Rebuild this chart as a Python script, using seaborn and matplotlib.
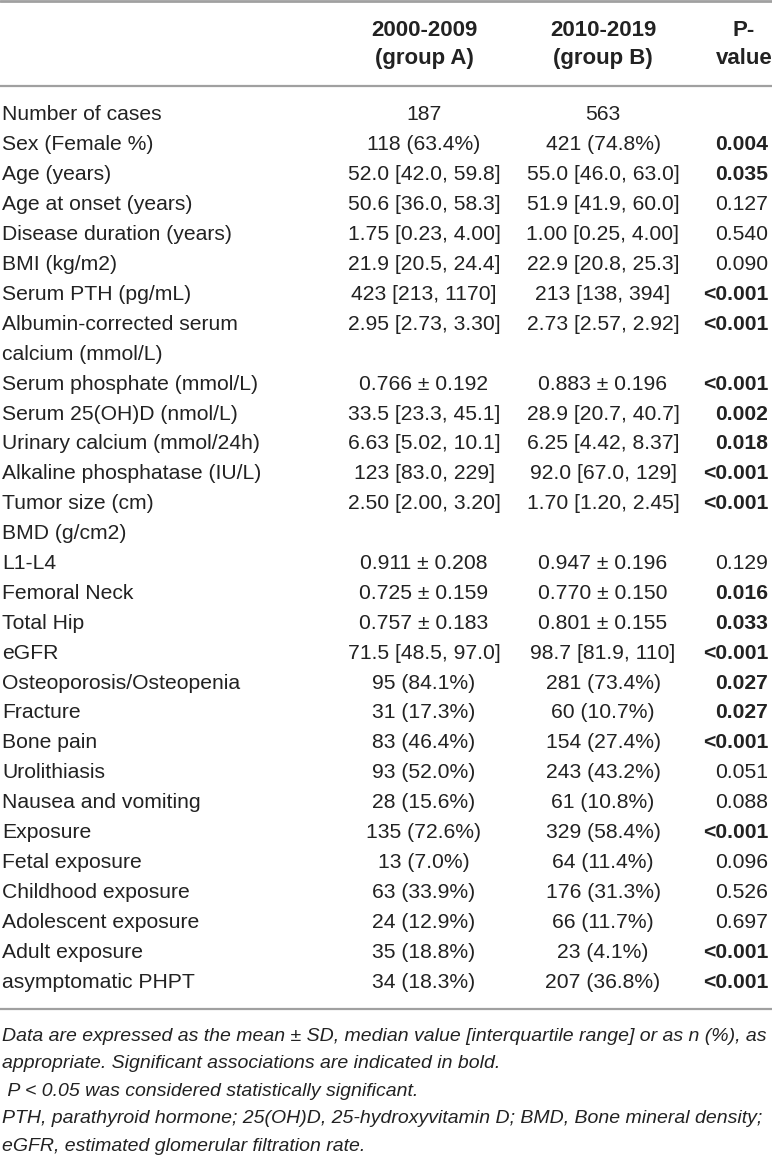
import matplotlib
matplotlib.use("Agg")
import matplotlib.pyplot as plt
import seaborn as sns
import pandas as pd

# table contents
labels = [
    "Number of cases", "Sex (Female %)", "Age (years)", "Age at onset (years)",
    "Disease duration (years)", "BMI (kg/m2)", "Serum PTH (pg/mL)",
    "Albumin-corrected serum\ncalcium (mmol/L)", "Serum phosphate (mmol/L)",
    "Serum 25(OH)D (nmol/L)", "Urinary calcium (mmol/24h)",
    "Alkaline phosphatase (IU/L)", "Tumor size (cm)", "BMD (g/cm2)", "L1-L4",
    "Femoral Neck", "Total Hip", "eGFR", "Osteoporosis/Osteopenia", "Fracture",
    "Bone pain", "Urolithiasis", "Nausea and vomiting", "Exposure",
    "Fetal exposure", "Childhood exposure", "Adolescent exposure",
    "Adult exposure", "asymptomatic PHPT",
]
group_a = [
    "187", "118 (63.4%)", "52.0 [42.0, 59.8]", "50.6 [36.0, 58.3]",
    "1.75 [0.23, 4.00]", "21.9 [20.5, 24.4]", "423 [213, 1170]",
    "2.95 [2.73, 3.30]", "0.766 ± 0.192", "33.5 [23.3, 45.1]",
    "6.63 [5.02, 10.1]", "123 [83.0, 229]", "2.50 [2.00, 3.20]", "",
    "0.911 ± 0.208", "0.725 ± 0.159", "0.757 ± 0.183", "71.5 [48.5, 97.0]",
    "95 (84.1%)", "31 (17.3%)", "83 (46.4%)", "93 (52.0%)", "28 (15.6%)",
    "135 (72.6%)", "13 (7.0%)", "63 (33.9%)", "24 (12.9%)", "35 (18.8%)",
    "34 (18.3%)",
]
group_b = [
    "563", "421 (74.8%)", "55.0 [46.0, 63.0]", "51.9 [41.9, 60.0]",
    "1.00 [0.25, 4.00]", "22.9 [20.8, 25.3]", "213 [138, 394]",
    "2.73 [2.57, 2.92]", "0.883 ± 0.196", "28.9 [20.7, 40.7]",
    "6.25 [4.42, 8.37]", "92.0 [67.0, 129]", "1.70 [1.20, 2.45]", "",
    "0.947 ± 0.196", "0.770 ± 0.150", "0.801 ± 0.155", "98.7 [81.9, 110]",
    "281 (73.4%)", "60 (10.7%)", "154 (27.4%)", "243 (43.2%)", "61 (10.8%)",
    "329 (58.4%)", "64 (11.4%)", "176 (31.3%)", "66 (11.7%)", "23 (4.1%)",
    "207 (36.8%)",
]
p_values = [
    "", "0.004", "0.035", "0.127", "0.540", "0.090", "<0.001", "<0.001",
    "<0.001", "0.002", "0.018", "<0.001", "<0.001", "", "0.129", "0.016",
    "0.033", "<0.001", "0.027", "0.027", "<0.001", "0.051", "0.088",
    "<0.001", "0.096", "0.526", "0.697", "<0.001", "<0.001",
]
col_headers = ["2000-2009\n(group A)", "2010-2019\n(group B)", "P-\nvalue"]
footnotes = [
    "Data are expressed as the mean ± SD, median value [interquartile range] or as n (%), as",
    "appropriate. Significant associations are indicated in bold.",
    " P < 0.05 was considered statistically significant.",
    "PTH, parathyroid hormone; 25(OH)D, 25-hydroxyvitamin D; BMD, Bone mineral density;",
    "eGFR, estimated glomerular filtration rate.",
]

df = pd.DataFrame({"label": labels, "a": group_a, "b": group_b, "p": p_values})


def is_sig(p):
    if not p:
        return False
    if p.startswith("<"):
        return True
    return float(p) < 0.05


df["bold"] = df["p"].apply(is_sig)

sns.set_theme(style="white")
plt.rcParams["font.family"] = ["Liberation Sans", "DejaVu Sans"]

W, H = 772, 1157
fig = plt.figure(figsize=(W / 100, H / 100), dpi=100)
ax = fig.add_axes([0, 0, 1, 1])
ax.set_xlim(0, W)
ax.set_ylim(H, 0)
ax.axis("off")

txt = "#222222"
rule = "#a0a0a0"
fs = 15.2
step = 29.9
y0 = 115

x_lab, x_a, x_b, x_p = 2, 424, 603, 768

# rules
ax.axhline(1, color=rule, lw=2)
ax.axhline(86, color=rule, lw=1.6)

# headers
for x, head in [(x_a, col_headers[0]), (x_b, col_headers[1]), (744, col_headers[2])]:
    for k, part in enumerate(head.split("\n")):
        ax.text(x, 31 + k * 27.5, part, ha="center", va="center", fontsize=16,
                fontweight="bold", color=txt)

# body
line = 0
for _, r in df.iterrows():
    y = y0 + line * step
    parts = r["label"].split("\n")
    for k, part in enumerate(parts):
        ax.text(x_lab, y + k * step, part, ha="left", va="center",
                fontsize=fs, color=txt)
    ax.text(x_a, y, r["a"], ha="center", va="center", fontsize=fs, color=txt)
    ax.text(x_b, y, r["b"], ha="center", va="center", fontsize=fs, color=txt)
    ax.text(x_p, y, r["p"], ha="right", va="center", fontsize=fs, color=txt,
            fontweight="bold" if r["bold"] else "normal")
    line += len(parts)

y_bot = y0 + (line - 1) * step + 27
ax.axhline(y_bot, color=rule, lw=1.6)

for k, note in enumerate(footnotes):
    ax.text(x_lab, y_bot + 27 + k * 27.5, note, ha="left", va="center",
            fontsize=14, fontstyle="italic", color=txt)

fig.savefig("out.png", dpi=100)
